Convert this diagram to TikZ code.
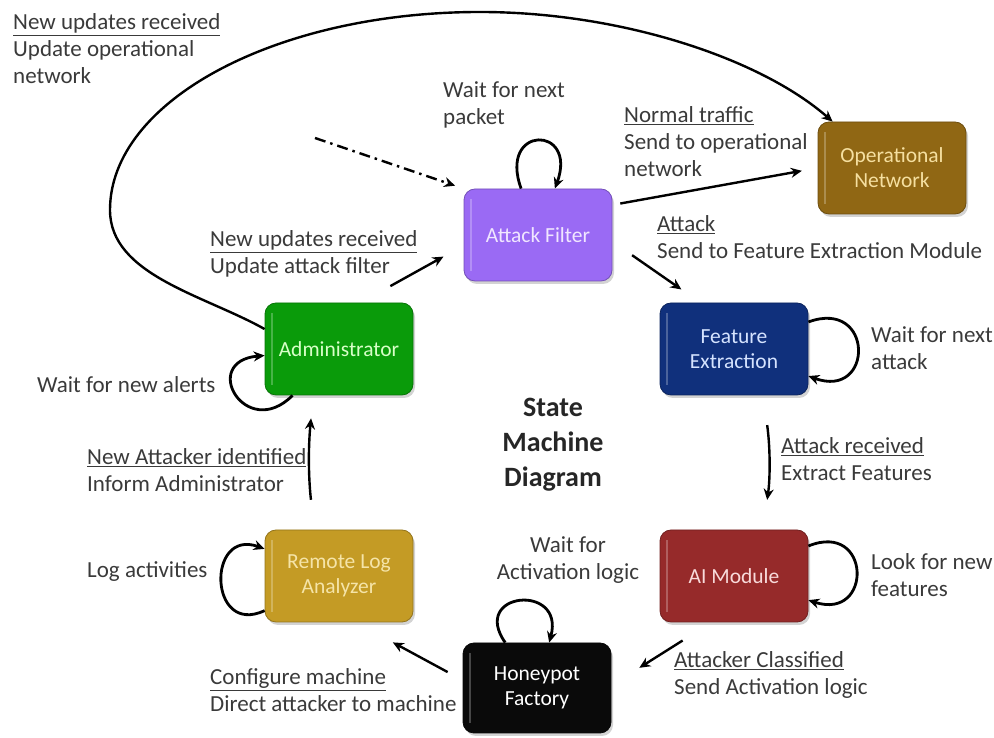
\documentclass[tikz,border=0pt]{standalone}
\usepackage{fontspec}
\setmainfont{Carlito}
\usetikzlibrary{arrows.meta,positioning,shadows}

\definecolor{filterpurple}{HTML}{9A6AF4}
\definecolor{filtertext}{HTML}{F0E6FF}
\definecolor{netbrown}{HTML}{906714}
\definecolor{nettext}{HTML}{F5DFA0}
\definecolor{featblue}{HTML}{10307C}
\definecolor{feattext}{HTML}{D5E3FF}
\definecolor{aired}{HTML}{962A2A}
\definecolor{aitext}{HTML}{F8DADA}
\definecolor{honeyblack}{HTML}{0A0A0A}
\definecolor{loggold}{HTML}{C49B25}
\definecolor{logtext}{HTML}{F5E4A8}
\definecolor{admingreen}{HTML}{0A9B0A}
\definecolor{admintext}{HTML}{D8FFC8}
\definecolor{notegray}{HTML}{3A3A3A}

\begin{document}
\begin{tikzpicture}[x=1pt,y=1pt,>={Stealth[length=11pt,width=10pt]},line width=2.4pt,
    machine/.style={draw=#1!75!black, line width=0.8pt, fill=#1, rounded corners=11pt,
      minimum width=148pt, minimum height=92pt, align=center,
      font=\fontsize{21.5}{25}\selectfont,
      drop shadow={shadow xshift=2pt,shadow yshift=-3pt,opacity=0.35},
      path picture={\fill[white,opacity=0.25,sharp corners]
        ([xshift=6pt,yshift=-10pt]path picture bounding box.north west) rectangle
        ([xshift=8pt,yshift=10pt]path picture bounding box.south west);}},
    note/.style={anchor=base west, align=left, inner sep=0pt, text=notegray,
      font=\fontsize{23}{27}\selectfont},
    selfloop/.style={line width=2.8pt}]
  \useasboundingbox (0,0) rectangle (994,738);

  % states
  \node[machine=filterpurple, text=filtertext] (filter) at (538,503) {Attack Filter};
  \node[machine=netbrown, text=nettext] (opnet) at (892,570) {Operational\\Network};
  \node[machine=featblue, text=feattext] (feat) at (734,389) {Feature\\Extraction};
  \node[machine=aired, text=aitext] (ai) at (734,162) {AI Module};
  \node[machine=honeyblack, text=white, minimum height=90pt] (honey) at (537,50) {Honeypot\\Factory};
  \node[machine=loggold, text=logtext] (logan) at (339,162) {Remote Log\\Analyzer};
  \node[machine=admingreen, text=admintext] (admin) at (339,389) {Administrator};

  \node[font=\fontsize{28}{35}\selectfont\bfseries, align=center, text=black!85] (title)
    at (553,293) {State\\Machine\\Diagram};

  % transition labels (anchored on their last line)
  \node[note] (updnet) at (12,654) {\underline{New updates received}\\Update operational\\network};
  \node[note] (waitpkt) at (442,613) {Wait for next\\packet};
  \node[note] (normal) at (623,561) {\underline{Normal traffic}\\Send to operational\\network};
  \node[note] (attack) at (656,479) {\underline{Attack}\\Send to Feature Extraction Module};
  \node[note] (updfilter) at (209,464) {\underline{New updates received}\\Update attack filter};
  \node[note] (waitatk) at (870,368) {Wait for next\\attack};
  \node[note] (waitalert) at (36,345) {Wait for new alerts};
  \node[note] (atkrecv) at (780,257) {\underline{Attack received}\\Extract Features};
  \node[note] (newatk) at (86,246) {\underline{New Attacker identified}\\Inform Administrator};
  \node[note] (logact) at (86,160) {Log activities};
  \node[note, anchor=base, align=center] (waitact) at (568,158) {Wait for\\Activation logic};
  \node[note] (lookfeat) at (870,141) {Look for new\\features};
  \node[note] (config) at (209,26) {\underline{Configure machine}\\Direct attacker to machine};
  \node[note] (classified) at (673,43) {\underline{Attacker Classified}\\Send Activation logic};

  % entry point
  \coordinate (entry) at (315,600);
  \draw[->, dash pattern=on 11pt off 5pt on 2.5pt off 5pt, shorten >=9pt] (entry) -- (filter.north west);

  % transitions
  \draw[->, shorten <=8pt, shorten >=16pt] (filter.22) -- (opnet.west);
  \draw[->, shorten <=24pt, shorten >=23pt] (filter.-5) -- (feat.126);
  \draw[->, shorten <=34pt, shorten >=23pt] (admin.65) -- (filter.188);
  \draw[->, shorten <=30pt, shorten >=30pt] (feat.-58) to[bend left=8] (ai.58);
  \draw[->, shorten <=34pt, shorten >=33pt] (ai.244) -- (honey.2);
  \draw[->, shorten <=17pt, shorten >=42pt] (honey.174) -- (logan.290);
  \draw[->, shorten <=30pt, shorten >=23pt] (logan.118) to[bend left=6] (admin.241);
  \draw[->] (admin.165) .. controls (204,443) and (110,463) .. (110,528)
    .. controls (110,637) and (276,726) .. (480,726)
    .. controls (620,726) and (760,680) .. (opnet.142);

  % waiting loops
  \path[->]
    (filter) edge[selfloop, out=110, in=70, distance=68pt] (filter)
    (feat) edge[selfloop, out=20, in=-20, distance=70pt] (feat)
    (ai) edge[selfloop, out=22, in=-18, distance=68pt] (ai)
    (honey) edge[selfloop, out=125, in=75, distance=62pt] (honey)
    (logan) edge[selfloop, out=205, in=160, distance=62pt] (logan)
    (admin) edge[selfloop, out=225, in=185, distance=66pt] (admin);
\end{tikzpicture}
\end{document}
